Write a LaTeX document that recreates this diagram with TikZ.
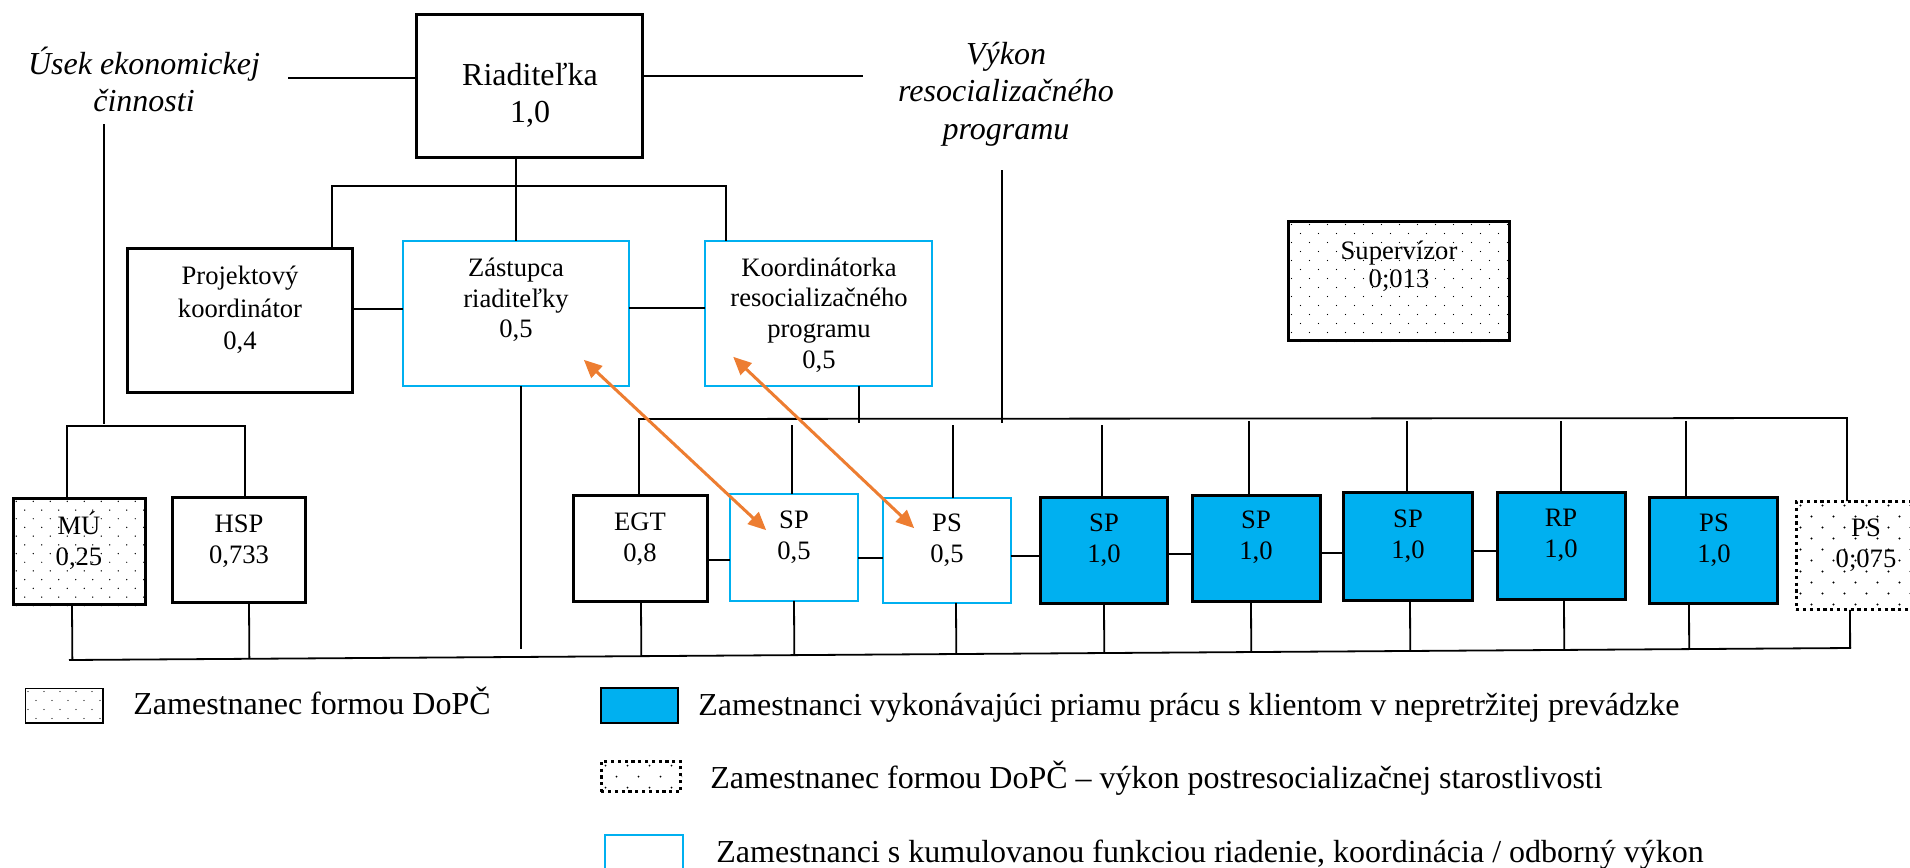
\documentclass[tikz,border=0pt]{standalone}
\usepackage{fontspec}
\setmainfont{Liberation Serif}
\usetikzlibrary{arrows.meta,calc}
\definecolor{cyanb}{RGB}{0,176,240}
\definecolor{orng}{RGB}{237,125,49}
\newcommand\mkbox[6]{%
  \pgfmathsetmacro\cx{(#3+#5)/2}%
  \pgfmathsetmacro\cy{(#4+#6)/2}%
  \pgfmathsetmacro\bw{(#5-#3)*0.5-1.2}%
  \pgfmathsetmacro\bh{(#6-#4)*0.5-1.2}%
  \node[#2,minimum width=\bw pt,minimum height=\bh pt] (#1) at (\cx,\cy) {};}
\newcommand\mydots[7]{%
  \begin{scope}
  \clip (#1,#2) rectangle (#3,#4);
  \pgfmathtruncatemacro\nx{(#3-#1)/#5+1}%
  \pgfmathtruncatemacro\ny{(#4-#2)/#6+1}%
  \foreach \i in {0,...,\nx}{%
    \foreach \j in {0,...,\ny}{%
      \pgfmathsetmacro\xx{#1+#5/4+\i*#5+mod(\j,2)*#5/2}%
      \pgfmathsetmacro\yy{#2+#6/2+\j*#6}%
      \fill (\xx,\yy) circle[radius=#7pt];
    }}
  \end{scope}}
\begin{document}
\begin{tikzpicture}[x=0.5pt,y=-0.5pt,
  bx/.style={draw=black,line width=1.45pt,inner sep=0pt,outer sep=0pt},
  cbx/.style={draw=cyanb,line width=1pt,inner sep=0pt,outer sep=0pt},
  fbx/.style={bx,fill=cyanb},
  dbx/.style={draw=black,line width=1.4pt,dash pattern=on 1.6pt off 1.8pt,inner sep=0pt,outer sep=0pt},
  conn/.style={line width=0.9pt},
  thconn/.style={line width=1.1pt},
  txt/.style={align=center,inner sep=0pt,font=\fontsize{13.3}{15.5}\selectfont},
  big/.style={align=center,inner sep=0pt,font=\fontsize{16}{18.5}\selectfont},
  ital/.style={align=center,inner sep=0pt,font=\fontsize{16}{18.5}\selectfont\itshape},
  leg/.style={anchor=base west,inner sep=0pt,font=\fontsize{16}{19}\selectfont},
  oarr/.style={draw=orng,line width=1.5pt,{Triangle[length=9pt,width=8pt]}-{Triangle[length=9pt,width=8pt]}}]
\useasboundingbox (0,0) rectangle (1910,867);

% dotted fills
\mydots{12}{497}{147}{606}{17}{8.7}{0.36}
\mydots{1287}{220}{1511}{342}{18}{9}{0.36}
\mydots{1795}{500}{1937}{611}{22}{11}{0.55}
\mydots{24}{687}{104}{724}{16}{9}{0.33}
\mydots{600}{760}{682}{793}{22}{11}{0.5}

% boxes
\mkbox{riad}{bx}{415}{13}{644}{159}
\mkbox{proj}{bx}{126}{247}{354}{394}
\mkbox{zast}{cbx}{402}{240}{630}{387}
\mkbox{koord}{cbx}{704}{240}{933}{387}
\mkbox{superv}{bx}{1287}{220}{1511}{342}
\mkbox{mu}{bx}{12}{497}{147}{606}
\mkbox{hsp}{bx}{171}{496}{307}{604}
\mkbox{egt}{bx}{572}{494}{709}{603}
\mkbox{sp05}{cbx}{729}{493}{859}{602}
\mkbox{ps05}{cbx}{882}{497}{1012}{604}
\mkbox{sp1}{fbx}{1039}{496}{1169}{605}
\mkbox{sp2}{fbx}{1191}{494}{1322}{603}
\mkbox{sp3}{fbx}{1342}{491}{1474}{602}
\mkbox{rp}{fbx}{1496}{491}{1627}{601}
\mkbox{ps1}{fbx}{1648}{496}{1779}{605}
\mkbox{ps075}{dbx}{1795}{500}{1937}{611}

% legend boxes
\mkbox{lg1}{draw=black,line width=0.7pt,inner sep=0pt,outer sep=0pt}{24}{687}{104}{724}
\mkbox{lg2}{draw=black,line width=1pt,fill=cyanb,inner sep=0pt,outer sep=0pt}{600}{687}{679}{724}
\mkbox{lg3}{dbx}{600}{760}{682}{793}
\mkbox{lg4}{cbx}{604}{834}{684}{880}

% texts
\node[big] (t-riad) at (530,95) {Riaditeľka\\1,0};
\node[ital] (t-usek) at (144,79) {Úsek ekonomickej\\činnosti};
\node[ital,font=\fontsize{16}{18.75}\selectfont\itshape] (t-vykon) at (1006,94) {Výkon\\resocializačného\\programu};
\node[txt,font=\fontsize{13.3}{16.25}\selectfont] (t-proj) at (240,310) {Projektový\\koordinátor\\0,4};
\node[txt,font=\fontsize{13.3}{15.25}\selectfont] (t-zast) at (516,300) {Zástupca\\riaditeľky\\0,5};
\node[txt,font=\fontsize{13.3}{15.3}\selectfont] (t-koord) at (819,315) {Koordinátorka\\resocializačného\\programu\\0,5};
\node[txt,font=\fontsize{13.3}{14}\selectfont] (t-superv) at (1399,266) {Supervízor\\0;013};
\node[txt] (t-mu) at (79,541) {MÚ\\0,25};
\node[txt] (t-hsp) at (239,541) {HSP\\0,733};
\node[txt] (t-egt) at (640,539) {EGT\\0,8};
\node[txt] (t-sp05) at (794,537) {SP\\0,5};
\node[txt] (t-ps05) at (947,540) {PS\\0,5};
\node[txt] (t-sp1) at (1104,540) {SP\\1,0};
\node[txt] (t-sp2) at (1256,537) {SP\\1,0};
\node[txt] (t-sp3) at (1408,536) {SP\\1,0};
\node[txt] (t-rp) at (1561,535) {RP\\1,0};
\node[txt] (t-ps1) at (1714,540) {PS\\1,0};
\node[txt] (t-ps075) at (1866,545) {PS\\0;075};

\node[leg] (l1) at (133,714) {Zamestnanec formou DoPČ};
\node[leg] (l2) at (698,715) {Zamestnanci vykonávajúci priamu prácu s klientom v nepretržitej prevádzke};
\node[leg] (l3) at (710,788) {Zamestnanec formou DoPČ – výkon postresocializačnej starostlivosti};
\node[leg] (l4) at (716,862) {Zamestnanci s kumulovanou funkciou riadenie, koordinácia / odborný výkon};

% upper connectors
\coordinate (usekR) at (288,78);
\coordinate (vykL) at (863,76);
\draw[thconn] (usekR) -- (usekR -| riad.west);
\draw[thconn] (riad.east |- vykL) -- (vykL);
\draw[thconn] (zast.north |- riad.south) -- (zast.north);
\coordinate (b1) at (332,186);
\coordinate (b2) at (726,186);
\draw[conn] (b1 |- proj.north) -- (b1) -- (b2) -- (b2 |- koord.north);
\coordinate (y309) at (0,309);
\coordinate (y308) at (0,308);
\draw[conn] (proj.east |- y309) -- (zast.west |- y309);
\draw[conn] (zast.east |- y308) -- (koord.west |- y308);
\coordinate (zd) at (521,649);
\draw[thconn] (zast.south -| zd) -- (zd);
\coordinate (kd) at (859,423);
\draw[thconn] (koord.south -| kd) -- (kd);
\coordinate (ut) at (104,124);
\coordinate (ub) at (104,424);
\draw[thconn] (ut) -- (ub);
\coordinate (lb1) at (67,426);
\coordinate (lb2) at (245,426);
\draw[conn] (lb1 |- mu.north) -- (lb1) -- (lb2) -- (lb2 |- hsp.north);
\coordinate (vt) at (1002,170);
\coordinate (vb) at (1002,423);
\draw[thconn] (vt) -- (vb);
\coordinate (rb1) at (639,419);
\coordinate (rb2) at (1847,418);
\draw[conn] (rb1 |- egt.north) -- (rb1) -- (rb2) -- (rb2 |- ps075.north);

% horizontal links in the bottom row
\coordinate (y560) at (0,560);
\coordinate (y558) at (0,558);
\coordinate (y556) at (0,556);
\coordinate (y554) at (0,554);
\coordinate (y553) at (0,553);
\coordinate (y551) at (0,551);
\draw[conn] (egt.east |- y560) -- (sp05.west |- y560);
\draw[conn] (sp05.east |- y558) -- (ps05.west |- y558);
\draw[conn] (ps05.east |- y556) -- (sp1.west |- y556);
\draw[conn] (sp1.east |- y554) -- (sp2.west |- y554);
\draw[conn] (sp2.east |- y553) -- (sp3.west |- y553);
\draw[conn] (sp3.east |- y551) -- (rp.west |- y551);

% drops from the right bus
\foreach \n/\x/\s in {sp05/792/425, ps05/953/425, sp1/1102/425, sp2/1249/421, sp3/1407/421, rp/1561/421, ps1/1686/421}{
  \coordinate (t\n) at (\x,\s);
  \draw[conn] (t\n) -- (t\n |- \n.north);
}

% drops to the bottom bus
\coordinate (bbl) at (69,660);
\coordinate (bbr) at (1851,648);
\draw[conn] (bbl) -- (bbr);
\foreach \n/\x in {mu/72, hsp/249, egt/641, sp05/794, ps05/956, sp1/1104, sp2/1251, sp3/1410, rp/1564, ps1/1689, ps075/1850}{
  \coordinate (d\n) at (\x,0);
  \coordinate (s\n) at (\n.south -| d\n);
  \draw[conn] (s\n) -- ($(bbl)!(s\n)!(bbr)$);
}

% orange arrows
\coordinate (a1) at ($(zast.south east)+(-45,-26)$);
\coordinate (a2) at ($(sp05.north west)+(36,36)$);
\coordinate (a3) at ($(koord.south west)+(28,-29)$);
\coordinate (a4) at ($(ps05.north west)+(31,30)$);
\draw[oarr] (a1) -- (a2);
\draw[oarr] (a3) -- (a4);
\end{tikzpicture}
\end{document}
